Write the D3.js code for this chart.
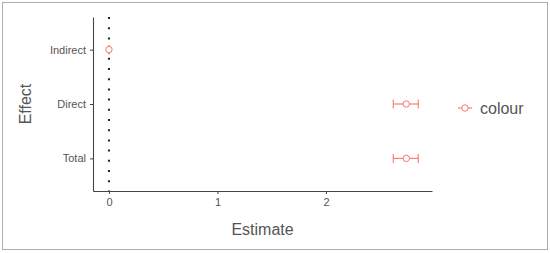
<!DOCTYPE html>
<html>
  <head>
    <meta charset="utf-8">
    <script src="https://d3js.org/d3.v7.min.js"></script>
    <style>
      body { margin: 0; background: #fff; }
      text { font-family: "Liberation Sans", Arial, sans-serif; }
    </style>
  </head>
  <body>
    <script>
      var effects = ["Indirect", "Direct", "Total"];
      var estimates = [0, 2.74, 2.74];
      var lowers = [0, 2.62, 2.62];
      var uppers = [0, 2.85, 2.85];
      var xTicks = [0, 1, 2];

      var width = 550, height = 253;
      var padL = 93, padR = 432, padT = 17, padB = 191;
      var pink = "#f8766d";

      var svg = d3.select("body").append("svg")
        .attr("width", width)
        .attr("height", height);

      // outer frame
      svg.append("rect")
        .attr("x", 2.5).attr("y", 2.5)
        .attr("width", 545).attr("height", 247)
        .attr("fill", "#fff")
        .attr("stroke", "#adadad");

      var x = d3.scaleLinear().domain([-0.147, 2.977]).range([padL, padR]);
      var y = d3.scalePoint().domain(effects).range([padT, padB]).padding(0.6);

      var data = effects.map(function(e, i) {
        return {effect: e, est: estimates[i], lo: lowers[i], hi: uppers[i]};
      });

      // x axis
      var xAxis = svg.append("g")
        .attr("transform", "translate(0," + padB + ")")
        .call(d3.axisBottom(x).tickValues(xTicks).tickSizeInner(3).tickSizeOuter(0).tickPadding(4).tickFormat(d3.format("d")));
      xAxis.select(".domain").attr("stroke", "#444").attr("stroke-width", 1.1);
      xAxis.selectAll(".tick line").attr("stroke", "#444");
      xAxis.selectAll("text").attr("fill", "#555").style("font-size", "11px");

      // y axis
      var yAxis = svg.append("g")
        .attr("transform", "translate(" + padL + ",0)")
        .call(d3.axisLeft(y).tickSizeInner(3).tickSizeOuter(0).tickPadding(4));
      yAxis.select(".domain").attr("stroke", "#444").attr("stroke-width", 1.1);
      yAxis.selectAll(".tick line").attr("stroke", "#444");
      yAxis.selectAll("text").attr("fill", "#555").style("font-size", "11px");

      // dotted zero line
      svg.append("line")
        .attr("x1", x(0)).attr("x2", x(0))
        .attr("y1", padT).attr("y2", padB)
        .attr("stroke", "#222")
        .attr("stroke-width", 2)
        .attr("stroke-dasharray", "2,8.2");

      // error bars
      var eb = svg.append("g").selectAll("g").data(data).enter().append("g");
      eb.append("line")
        .attr("x1", function(d) { return x(d.lo); })
        .attr("x2", function(d) { return x(d.hi); })
        .attr("y1", function(d) { return y(d.effect); })
        .attr("y2", function(d) { return y(d.effect); })
        .attr("stroke", pink).attr("stroke-width", 1.1);
      [ "lo", "hi" ].forEach(function(k) {
        eb.append("line")
          .attr("x1", function(d) { return x(d[k]); })
          .attr("x2", function(d) { return x(d[k]); })
          .attr("y1", function(d) { return y(d.effect) - 4.5; })
          .attr("y2", function(d) { return y(d.effect) + 4.5; })
          .attr("stroke", pink).attr("stroke-width", 1.1);
      });
      eb.append("circle")
        .attr("cx", function(d) { return x(d.est); })
        .attr("cy", function(d) { return y(d.effect); })
        .attr("r", 3.2)
        .attr("fill", "#fff")
        .attr("stroke", pink).attr("stroke-width", 1);

      // axis titles
      svg.append("text")
        .attr("x", (padL + padR) / 2).attr("y", 235)
        .attr("text-anchor", "middle")
        .attr("fill", "#555")
        .style("font-size", "16px")
        .text("Estimate");
      svg.append("text")
        .attr("transform", "translate(31," + ((padT + padB) / 2) + ") rotate(-90)")
        .attr("text-anchor", "middle")
        .attr("fill", "#555")
        .style("font-size", "16px")
        .text("Effect");

      // legend
      var lg = svg.append("g").attr("transform", "translate(465,108)");
      lg.append("line").attr("x1", -7).attr("x2", 7).attr("stroke", pink).attr("stroke-width", 1.1);
      lg.append("circle").attr("r", 3.2).attr("fill", "#fff").attr("stroke", pink);
      lg.append("text")
        .attr("x", 15).attr("y", 5.5)
        .attr("fill", "#555")
        .style("font-size", "16px")
        .text("colour");
    </script>
  </body>
</html>
